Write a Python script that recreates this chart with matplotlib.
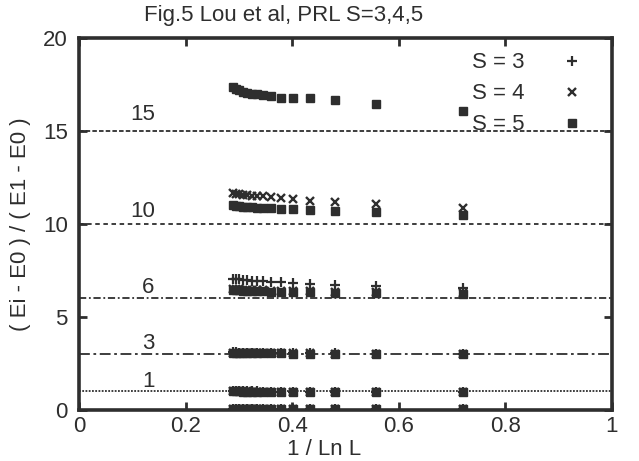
import matplotlib
matplotlib.use("Agg")
import matplotlib.pyplot as plt

plt.rcParams['font.family'] = ['Liberation Sans', 'DejaVu Sans']

title = "Fig.5 Lou et al, PRL S=3,4,5"
xlabel = "1 / Ln L"
ylabel = "( Ei - E0 ) / ( E1 - E0 )"

# 1 / ln L positions
x_vals = [0.289, 0.294, 0.300, 0.307, 0.315, 0.324, 0.334, 0.346, 0.361, 0.379, 0.402, 0.434, 0.481, 0.558, 0.721]

# S = 3 levels
s3_l0 = [0.05, 0.05, 0.05, 0.05, 0.05, 0.05, 0.05, 0.05, 0.05, 0.05, 0.05, 0.05, 0.05, 0.05, 0.05]
s3_l1 = [1.00, 1.00, 1.00, 1.00, 1.00, 1.00, 1.00, 0.99, 0.99, 0.99, 0.99, 0.98, 0.98, 0.97, 0.96]
s3_l3 = [3.10, 3.10, 3.09, 3.09, 3.08, 3.08, 3.08, 3.07, 3.07, 3.06, 3.06, 3.05, 3.04, 3.03, 3.01]
s3_l6 = [7.05, 7.03, 7.02, 7.00, 6.98, 6.96, 6.95, 6.92, 6.90, 6.87, 6.83, 6.77, 6.72, 6.67, 6.55]

# S = 4 levels
s4_l0 = [0.05, 0.05, 0.05, 0.05, 0.05, 0.05, 0.05, 0.05, 0.05, 0.05, 0.05, 0.05, 0.05, 0.05, 0.05]
s4_l1 = [1.00, 1.00, 1.00, 1.00, 1.00, 0.99, 0.99, 0.99, 0.99, 0.98, 0.98, 0.98, 0.97, 0.97, 0.96]
s4_l3 = [3.08, 3.08, 3.08, 3.07, 3.07, 3.07, 3.06, 3.06, 3.05, 3.05, 3.04, 3.04, 3.03, 3.02, 3.00]
s4_l6 = [6.50, 6.50, 6.48, 6.47, 6.46, 6.45, 6.44, 6.43, 6.42, 6.40, 6.40, 6.38, 6.35, 6.32, 6.30]
s4_l10 = [11.65, 11.63, 11.60, 11.58, 11.55, 11.53, 11.50, 11.48, 11.45, 11.40, 11.35, 11.25, 11.18, 11.08, 10.86]

# S = 5 levels
s5_l0 = [0.05, 0.05, 0.05, 0.05, 0.05, 0.05, 0.05, 0.05, 0.05, 0.05, 0.05, 0.05, 0.05, 0.05, 0.05]
s5_l1 = [1.00, 1.00, 1.00, 0.99, 0.99, 0.99, 0.99, 0.98, 0.98, 0.98, 0.97, 0.97, 0.96, 0.96, 0.95]
s5_l3 = [3.07, 3.07, 3.06, 3.06, 3.06, 3.05, 3.05, 3.05, 3.04, 3.04, 3.03, 3.03, 3.02, 3.01, 2.99]
s5_l6 = [6.45, 6.44, 6.43, 6.42, 6.41, 6.40, 6.40, 6.38, 6.37, 6.36, 6.35, 6.33, 6.30, 6.28, 6.25]
s5_l10 = [11.00, 10.98, 10.95, 10.93, 10.90, 10.90, 10.88, 10.87, 10.85, 10.83, 10.80, 10.75, 10.72, 10.65, 10.48]
s5_l15 = [17.35, 17.25, 17.20, 17.10, 17.05, 17.00, 17.00, 16.95, 16.90, 16.80, 16.80, 16.75, 16.65, 16.45, 16.05]

# reference levels
ref_levels = [15, 10, 6, 3, 1]
ref_labels = ["15", "10", "6", "3", "1"]
legend_labels = ["S = 3", "S = 4", "S = 5"]

ink = '#2e2e2e'
fs = 16

fig = plt.figure(figsize=(6.39, 4.61), dpi=100)
ax = fig.add_axes([0.1236, 0.1106, 0.834, 0.807])

# reference lines
styles = [(0, (2.5, 1.2)), (0, (2.5, 2)), (0, (4, 1.5, 1, 1.5)), (0, (6, 2, 1.5, 2)), (0, (1, 0.8))]
for lev, ls in zip(ref_levels, styles):
    ax.axhline(lev, color=ink, lw=1.3, ls=ls, zorder=1)
ax.axhline(0, color=ink, lw=2, zorder=1)

label_pos_x = [0.12, 0.12, 0.13, 0.13, 0.13]
label_off = [0.9, 0.65, 0.6, 0.6, 0.55]
for lev, lab, lx, off in zip(ref_levels, ref_labels, label_pos_x, label_off):
    ax.text(lx, lev + off, lab, ha='center', va='center', fontsize=fs, color=ink)

m3 = dict(marker='+', ls='none', color=ink, ms=7, mew=1.6)
m4 = dict(marker='x', ls='none', color=ink, ms=5.5, mew=1.7)
m5 = dict(marker='s', ls='none', color=ink, ms=6, mew=1.0)

first = True
for ys in [s3_l0, s3_l1, s3_l3, s3_l6]:
    ax.plot(x_vals, ys, label=legend_labels[0] if first else None, **m3)
    first = False
first = True
for ys in [s4_l0, s4_l1, s4_l3, s4_l6, s4_l10]:
    ax.plot(x_vals, ys, label=legend_labels[1] if first else None, **m4)
    first = False
first = True
for ys in [s5_l0, s5_l1, s5_l3, s5_l6, s5_l10, s5_l15]:
    ax.plot(x_vals, ys, label=legend_labels[2] if first else None, **m5)
    first = False

leg = ax.legend(loc='upper right', frameon=False, markerfirst=False, fontsize=fs,
                handlelength=1.0, handletextpad=1.6, labelspacing=0.45,
                borderaxespad=0.0, bbox_to_anchor=(0.962, 0.985))
for t in leg.get_texts():
    t.set_color(ink)

ax.set_xlim(0, 1)
ax.set_ylim(0, 20)
ax.set_xticks([0, 0.2, 0.4, 0.6, 0.8, 1])
ax.set_xticklabels(["0", "0.2", "0.4", "0.6", "0.8", "1"])
ax.set_yticks([0, 5, 10, 15, 20])
ax.tick_params(direction='in', length=6, width=2, top=True, right=True,
               labelsize=fs, colors=ink, pad=4)
ax.tick_params(axis='y', pad=8)
for sp in ax.spines.values():
    sp.set_linewidth(2.6)
    sp.set_color(ink)

fig.text(0.443, 0.966, title, fontsize=fs, color=ink, ha='center', va='center')
fig.text(0.507, 0.026, xlabel, fontsize=fs, color=ink, ha='center', va='center')
fig.text(0.032, 0.514, ylabel, fontsize=fs, color=ink, ha='center', va='center', rotation=90)

fig.savefig("out.png", dpi=100)
